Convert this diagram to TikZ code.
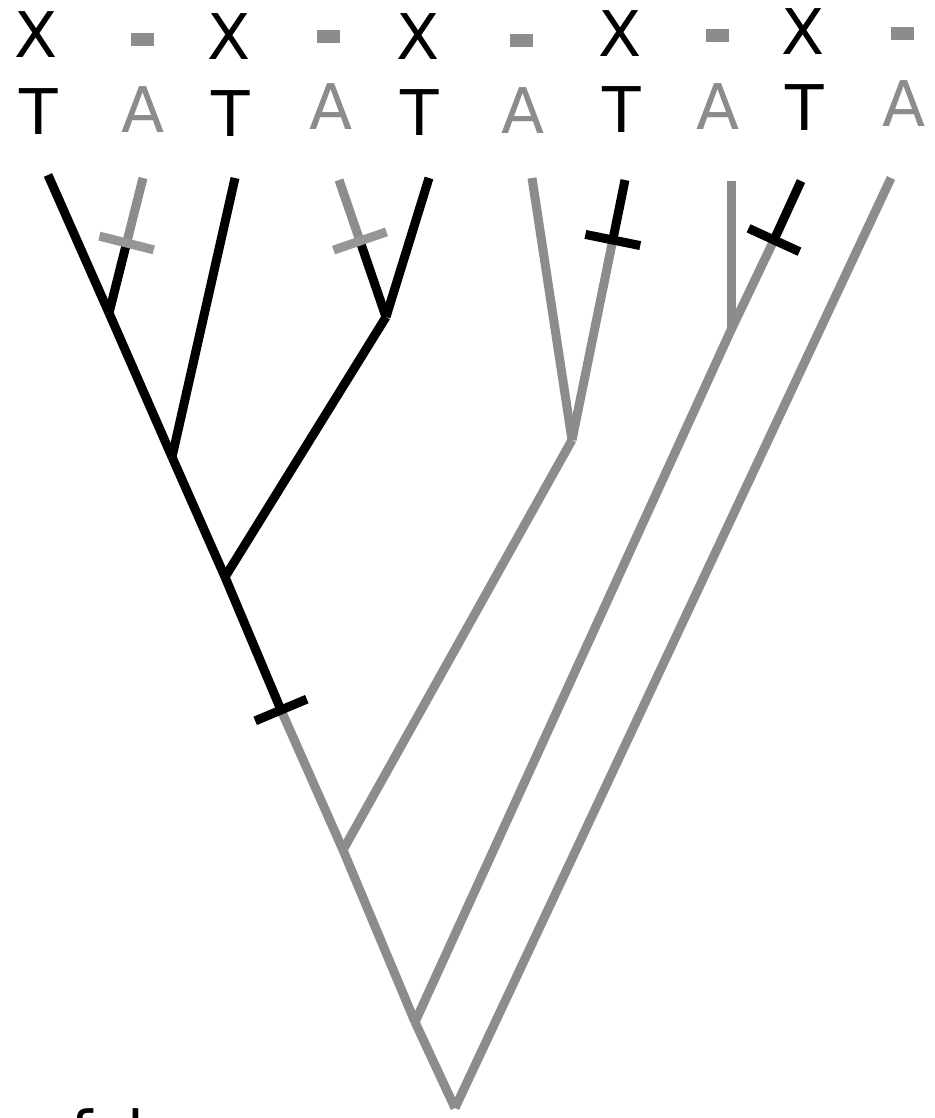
\documentclass[tikz,border=0pt]{standalone}
\usepackage{fontspec}
\setmainfont{DejaVu Sans}
\usetikzlibrary{calc}
\definecolor{gr}{HTML}{8C8C8C}
\definecolor{grt}{HTML}{969696}
\begin{document}
\begin{tikzpicture}[x=1pt,y=-1pt,
  br/.style={line width=9pt},
  blk/.style={br,draw=black},
  gry/.style={br,draw=gr},
  lab/.style={font=\fontsize{63}{70}\selectfont, inner sep=0pt, anchor=base},
  gap/.style={fill=gr, minimum width=23pt, minimum height=13pt, inner sep=0pt}]
\clip (0,0) rectangle (934,1118);
% tree coordinates
\coordinate (root) at (455,1108);
\coordinate (n5) at (415,1022);
\coordinate (n4) at (343,850);
\coordinate (tk0) at (281,710);
\coordinate (n3) at (225,577);
\coordinate (n2) at (172,457);
\coordinate (n1) at (109,313);
\coordinate (l1) at (48,175);
\coordinate (l2) at (143,178);
\coordinate (tk2) at (126.6,243);
\coordinate (l3) at (235,178);
\coordinate (n3b) at (386,317);
\coordinate (l4) at (339,180);
\coordinate (tk4) at (360,241);
\coordinate (l5) at (429,178);
\coordinate (n4b) at (572,440);
\coordinate (l6) at (532,178);
\coordinate (l7) at (625,180);
\coordinate (tk7) at (612.8,240);
\coordinate (n5b) at (731,330);
\coordinate (l8) at (731,181);
\coordinate (l9) at (801,181);
\coordinate (tk9) at (774,240);
\coordinate (l10) at (891,178);
% spine
\draw[blk] (l1) -- (n1);
\draw[blk] (n1) -- (n2);
\draw[blk] (n2) -- (n3);
\draw[blk] (n3) -- (tk0);
\draw[gry] (tk0) -- (n4);
\draw[gry] (n4) -- (n5);
\draw[gry] (n5) -- (root);
% left clade
\draw[blk] (n1) -- (tk2);
\draw[gry] (tk2) -- (l2);
\draw[blk] (n2) -- (l3);
\draw[blk] (n3) -- (n3b);
\draw[blk] (n3b) -- (tk4);
\draw[gry] (tk4) -- (l4);
\draw[blk] (n3b) -- (l5);
% right side
\draw[gry] (n4) -- (n4b);
\draw[gry] (n4b) -- (l6);
\draw[gry] (n4b) -- (tk7);
\draw[blk] (tk7) -- (l7);
\draw[gry] (n5) -- (n5b);
\draw[gry] (n5b) -- (l8);
\draw[gry] (n5b) -- (tk9);
\draw[blk] (tk9) -- (l9);
\draw[gry] (root) -- (l10);
% tick bars
\draw[br,draw=grt] ($(tk2)!28pt!90:(l2)$) -- ($(tk2)!28pt!-90:(l2)$);
\draw[br,draw=grt] ($(tk4)!28pt!90:(l4)$) -- ($(tk4)!28pt!-90:(l4)$);
\draw[blk] ($(tk0)!28pt!90:(n3)$) -- ($(tk0)!28pt!-90:(n3)$);
\draw[blk] ($(tk7)!28pt!90:(l7)$) -- ($(tk7)!28pt!-90:(l7)$);
\draw[blk] ($(tk9)!28pt!90:(l9)$) -- ($(tk9)!28pt!-90:(l9)$);
% top row
\node[lab] (x1) at (36,58) {X};
\node[gap] (g1) at (142,40) {};
\node[lab] (x2) at (229,60) {X};
\node[gap] (g2) at (328,37) {};
\node[lab] (x3) at (418,60) {X};
\node[gap] (g3) at (521,41) {};
\node[lab] (x4) at (620,57) {X};
\node[gap] (g4) at (717,36) {};
\node[lab] (x5) at (803,55) {X};
\node[gap] (g5) at (902,34) {};
% second row
\node[lab] (t1) at (39,135) {T};
\node[lab,text=gr] (a1) at (143,133) {A};
\node[lab] (t2) at (231,137) {T};
\node[lab,text=gr] (a2) at (331,130) {A};
\node[lab] (t3) at (420,136) {T};
\node[lab,text=gr] (a3) at (523,134) {A};
\node[lab] (t4) at (622,133) {T};
\node[lab,text=gr] (a4) at (718,130) {A};
\node[lab] (t5) at (805,131) {T};
\node[lab,text=gr] (a5) at (904,127) {A};
% cut-off text at bottom
\node[lab,anchor=base west] (f) at (70,1156) {f};
\node[lab,anchor=base west] (d) at (104,1156) {d};
\end{tikzpicture}
\end{document}
